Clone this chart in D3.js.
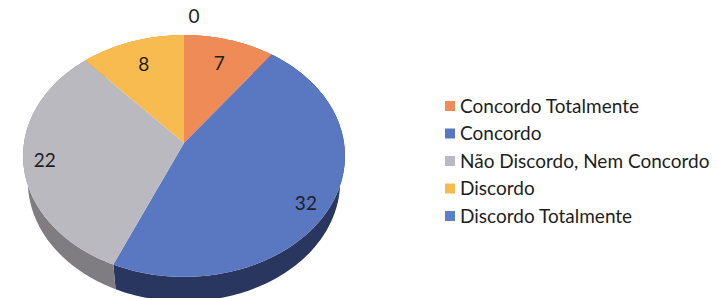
<!DOCTYPE html>
<html>
<head>
<meta charset="utf-8">
<script src="https://cdn.jsdelivr.net/npm/d3@7"></script>
<style>
  body { margin: 0; background: #fff; }
  text { font-family: Lato, "Open Sans", sans-serif; }
</style>
</head>
<body>
<div id="chart"></div>
<script>
// data
const categories = ["Concordo Totalmente", "Concordo", "Não Discordo, Nem Concordo", "Discordo", "Discordo Totalmente"];
const values = [7, 32, 22, 8, 0];
const colors = ["#ee8b57", "#5a77c2", "#bbb9c0", "#f8bb4f", "#5b7fc9"];
const sideColors = ["#b8653c", "#29365f", "#7f7d81", "#c08c34", "#3b5590"];

const width = 717, height = 298;
const svg = d3.select("#chart").append("svg")
  .attr("width", width).attr("height", height);

// 3D projection of a tilted disk
const cx = 184, cy = 143, scale = 160;
const tilt = Math.asin(0.747), dist = 6.2, thick = 0.25;
function project(theta, r, h) {
  const u = r * Math.sin(theta), v = r * Math.cos(theta);
  const yc = v * Math.sin(tilt) + h * Math.cos(tilt);
  const z = dist + v * Math.cos(tilt) - h * Math.sin(tilt);
  const f = dist / z;
  return [cx + scale * u * f, cy - scale * yc * f];
}

const pie = d3.pie().sort(null).value(d => d)
  .startAngle(0).endAngle(2 * Math.PI);
const arcs = pie(values);
const line = d3.line();

function arcPts(a0, a1, r, h) {
  const n = Math.max(2, Math.ceil((a1 - a0) / 0.02));
  return d3.range(n + 1).map(i => project(a0 + (a1 - a0) * i / n, r, h));
}

// outer walls
arcs.forEach((a, i) => {
  if (a.endAngle - a.startAngle <= 0) return;
  const top = arcPts(a.startAngle, a.endAngle, 1, 0);
  const bot = arcPts(a.startAngle, a.endAngle, 1, -thick).reverse();
  svg.append("path")
    .attr("d", line(top.concat(bot)) + "Z")
    .attr("fill", sideColors[i]);
});

// top faces
arcs.forEach((a, i) => {
  if (a.endAngle - a.startAngle <= 0) return;
  const pts = [project(0, 0, 0)].concat(arcPts(a.startAngle, a.endAngle, 1, 0));
  svg.append("path")
    .attr("d", line(pts) + "Z")
    .attr("fill", colors[i]);
});

// value labels
const labelR = v => v === 0 ? 1.2 : (v < 10 ? 0.76 : (v > 30 ? 0.84 : 0.88));
arcs.forEach((a, i) => {
  const mid = (a.startAngle + a.endAngle) / 2;
  const p = project(mid, labelR(a.data), 0);
  svg.append("text")
    .attr("x", p[0] + (a.data === 0 ? 10 : 0) + (a.data === 22 ? 2 : 0))
    .attr("y", p[1] + (a.data > 30 ? 8 : 0))
    .attr("dy", "0.35em")
    .attr("text-anchor", "middle")
    .style("font-size", "19px")
    .attr("fill", "#1e1e1e")
    .text(a.data);
});

// legend
const legendY = d3.scalePoint().domain(categories).range([106, 216]);
const legend = svg.append("g");
categories.forEach((c, i) => {
  const y = legendY(c);
  legend.append("rect")
    .attr("x", 445).attr("y", y - 5)
    .attr("width", 10).attr("height", 10)
    .attr("fill", colors[i]);
  legend.append("text")
    .attr("x", 460).attr("y", y)
    .attr("dy", "0.35em")
    .style("font-size", "19px")
    .attr("fill", "#1e1e1e")
    .text(c);
});
</script>
</body>
</html>
